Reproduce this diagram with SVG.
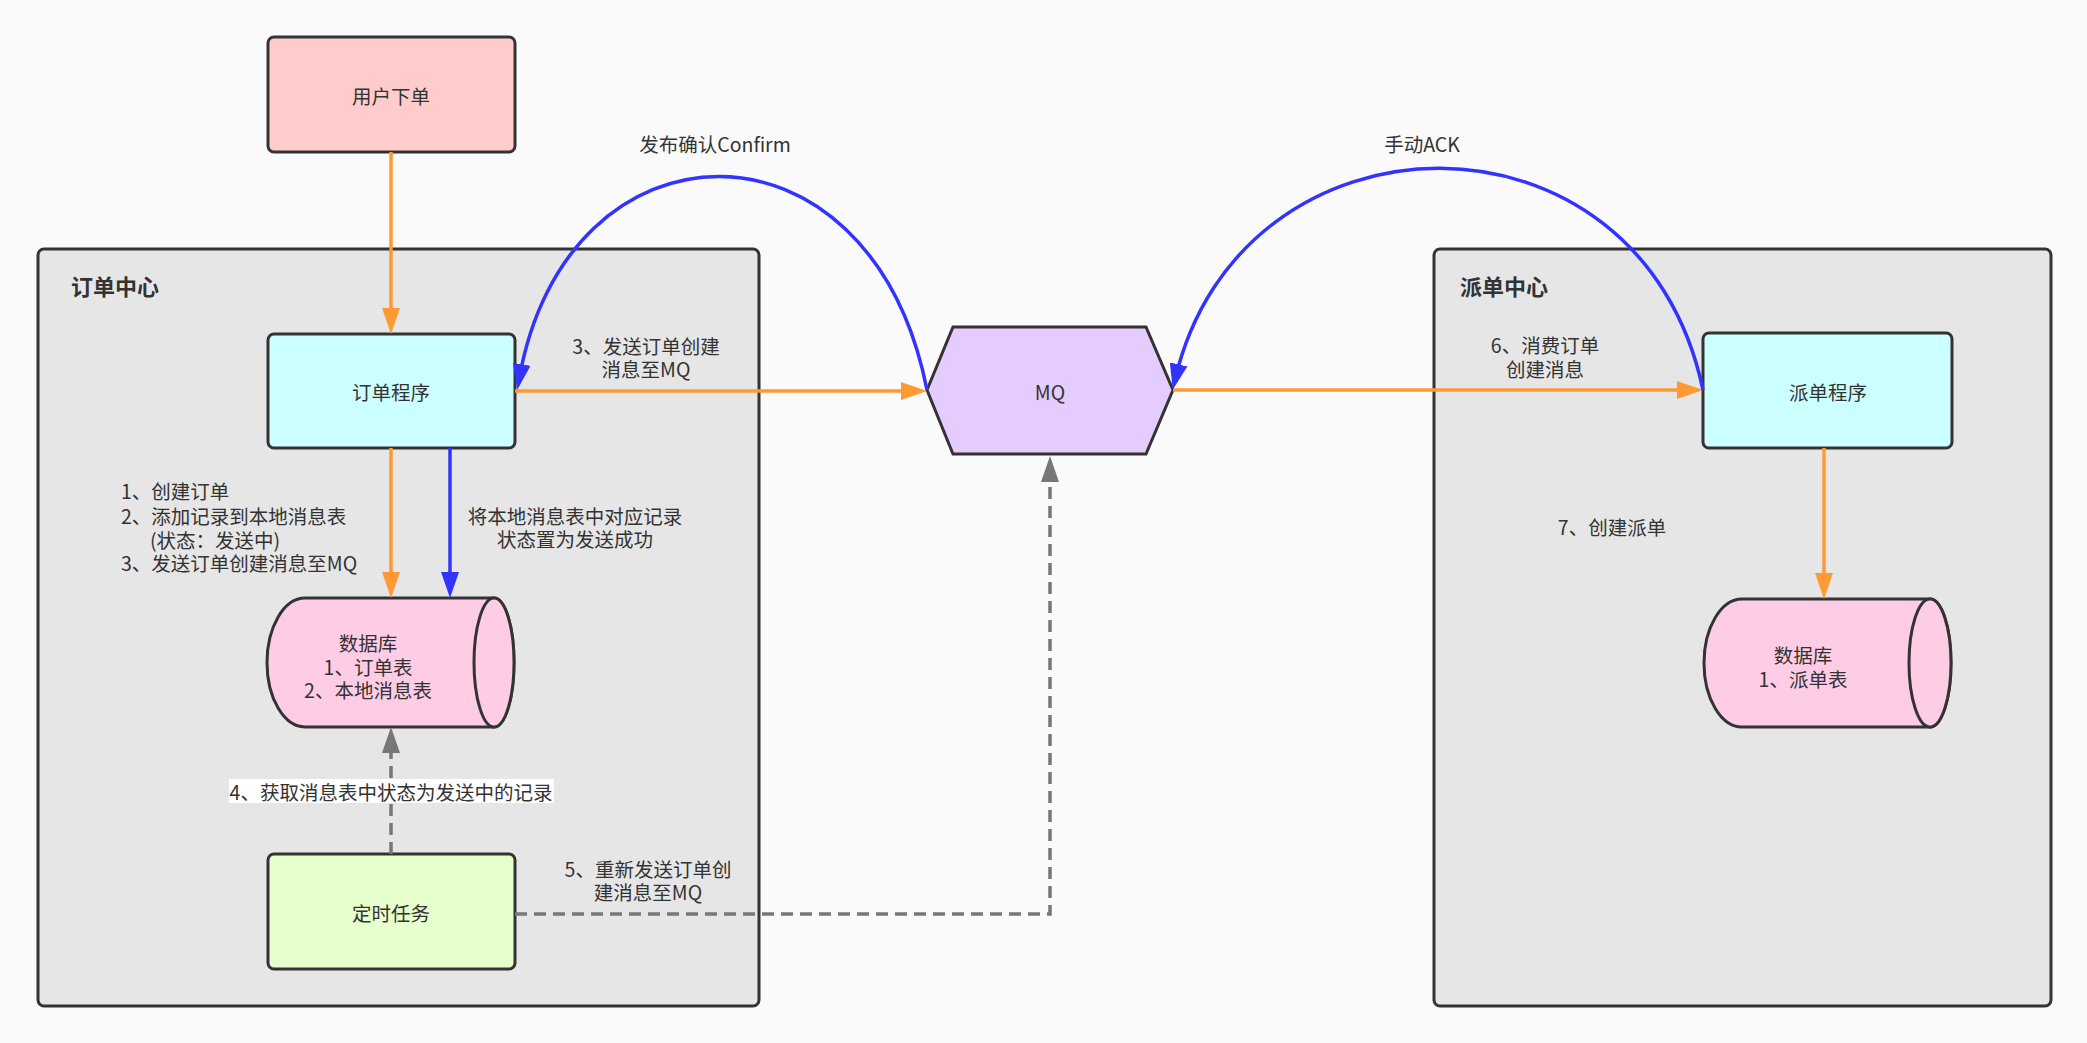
<svg xmlns="http://www.w3.org/2000/svg" width="2087" height="1043" viewBox="0 0 2087 1043">
<style>
text{font-family:"Noto Sans CJK SC","Noto Sans",sans-serif;font-size:19.5px;fill:#333;dominant-baseline:central}
.c{text-anchor:middle}
.title{font-size:22px;font-weight:bold}
.node{stroke:#333;stroke-width:3}
.cont{fill:#e6e6e6;stroke:#333;stroke-width:3}
.o{fill:none;stroke:#ff9933;stroke-width:3.5}
.b{fill:none;stroke:#3333ff;stroke-width:3.5}
.g{fill:none;stroke:#777;stroke-width:3.5}
</style>
<defs>
<marker id="arO" viewBox="0 0 26 18" markerWidth="26" markerHeight="18" refX="16" refY="9" orient="auto" markerUnits="userSpaceOnUse"><path d="M0,0 L26,9 L0,18 z" fill="#ff9933"/></marker>
<marker id="arB" viewBox="0 0 26 18" markerWidth="26" markerHeight="18" refX="16" refY="9" orient="auto" markerUnits="userSpaceOnUse"><path d="M0,0 L26,9 L0,18 z" fill="#3333ff"/></marker>
<marker id="arG" viewBox="0 0 26 18" markerWidth="26" markerHeight="18" refX="16" refY="9" orient="auto" markerUnits="userSpaceOnUse"><path d="M0,0 L26,9 L0,18 z" fill="#777"/></marker>
</defs>
<rect width="2087" height="1043" fill="#fafafa"/>

<g id="order-center">
<rect class="cont" x="38" y="249" width="721" height="757" rx="6"/>
<text class="title" x="71" y="285">订单中心</text>
</g>
<g id="dispatch-center">
<rect class="cont" x="1434" y="249" width="617" height="757" rx="6"/>
<text class="title" x="1460" y="285">派单中心</text>
</g>

<g id="user-order">
<rect class="node" x="268" y="37" width="247" height="115" rx="6" fill="#ffcccc"/>
<text class="c" x="391" y="95">用户下单</text>
</g>
<g id="order-program">
<rect class="node" x="268" y="334" width="247" height="114" rx="6" fill="#ccffff"/>
<text class="c" x="391" y="391">订单程序</text>
</g>
<g id="order-db">
<path class="node" fill="#ffcce6" d="M305,598 L494,598 A20,64.5 0 0 1 494,727 L305,727 A38,64.5 0 0 1 305,598 Z"/>
<ellipse class="node" fill="#ffcce6" cx="494" cy="662.5" rx="20" ry="64.5"/>
<text class="c"><tspan x="368" y="642">数据库</tspan><tspan x="368" y="666">1、订单表</tspan><tspan x="368" y="689">2、本地消息表</tspan></text>
</g>
<g id="timer-task">
<rect class="node" x="268" y="854" width="247" height="115" rx="6" fill="#e6ffcc"/>
<text class="c" x="391" y="912">定时任务</text>
</g>
<g id="mq">
<polygon class="node" fill="#e5ccff" points="927,390 953,327 1146,327 1173,390 1146,454 953,454"/>
<text class="c" x="1050" y="391">MQ</text>
</g>
<g id="dispatch-program">
<rect class="node" x="1703" y="333" width="249" height="115" rx="6" fill="#ccffff"/>
<text class="c" x="1828" y="391">派单程序</text>
</g>
<g id="dispatch-db">
<path class="node" fill="#ffcce6" d="M1742,599 L1930,599 A21,64 0 0 1 1930,727 L1742,727 A38,64 0 0 1 1742,599 Z"/>
<ellipse class="node" fill="#ffcce6" cx="1930" cy="663" rx="21" ry="64"/>
<text class="c"><tspan x="1803" y="654">数据库</tspan><tspan x="1803" y="678">1、派单表</tspan></text>
</g>

<g id="connectors">
<path class="o" d="M391,152 L391,324" marker-end="url(#arO)"/>
<path class="o" d="M515,391 L917,391" marker-end="url(#arO)"/>
<path class="o" d="M391,448 L391,588" marker-end="url(#arO)"/>
<path class="b" d="M450,448 L450,588" marker-end="url(#arB)"/>
<path class="o" d="M1173,390 L1693,390" marker-end="url(#arO)"/>
<path class="o" d="M1824,448 L1824,589" marker-end="url(#arO)"/>
<path class="g" d="M391,854 L391,737" stroke-dasharray="12 7" marker-end="url(#arG)"/>
<path class="g" d="M515,914 L1050,914 L1050,466" stroke-dasharray="12 7" marker-end="url(#arG)"/>
<path class="b" d="M927,390 C870,102 565,112 519,380" marker-end="url(#arB)"/>
<path class="b" d="M1703,390 C1640,92 1240,100 1175,380" marker-end="url(#arB)"/>

<text class="c" x="715" y="143">发布确认Confirm</text>
<text class="c" x="1422" y="143">手动ACK</text>
<text class="c"><tspan x="646" y="345">3、发送订单创建</tspan><tspan x="646" y="368">消息至MQ</tspan></text>
<text class="c"><tspan x="1545" y="344">6、消费订单</tspan><tspan x="1545" y="368">创建消息</tspan></text>
<text class="c" x="1612" y="526">7、创建派单</text>
<text class="c"><tspan x="575" y="515">将本地消息表中对应记录</tspan><tspan x="575" y="538">状态置为发送成功</tspan></text>
<text><tspan x="121" y="490">1、创建订单</tspan><tspan x="121" y="515">2、添加记录到本地消息表</tspan><tspan x="150" y="539">(状态：发送中)</tspan><tspan x="121" y="562">3、发送订单创建消息至MQ</tspan></text>
<rect x="229" y="779" width="325" height="24" fill="#ffffff"/>
<text class="c" x="391" y="791">4、获取消息表中状态为发送中的记录</text>
<text class="c"><tspan x="648" y="868">5、重新发送订单创</tspan><tspan x="648" y="891">建消息至MQ</tspan></text>
</g>
</svg>
